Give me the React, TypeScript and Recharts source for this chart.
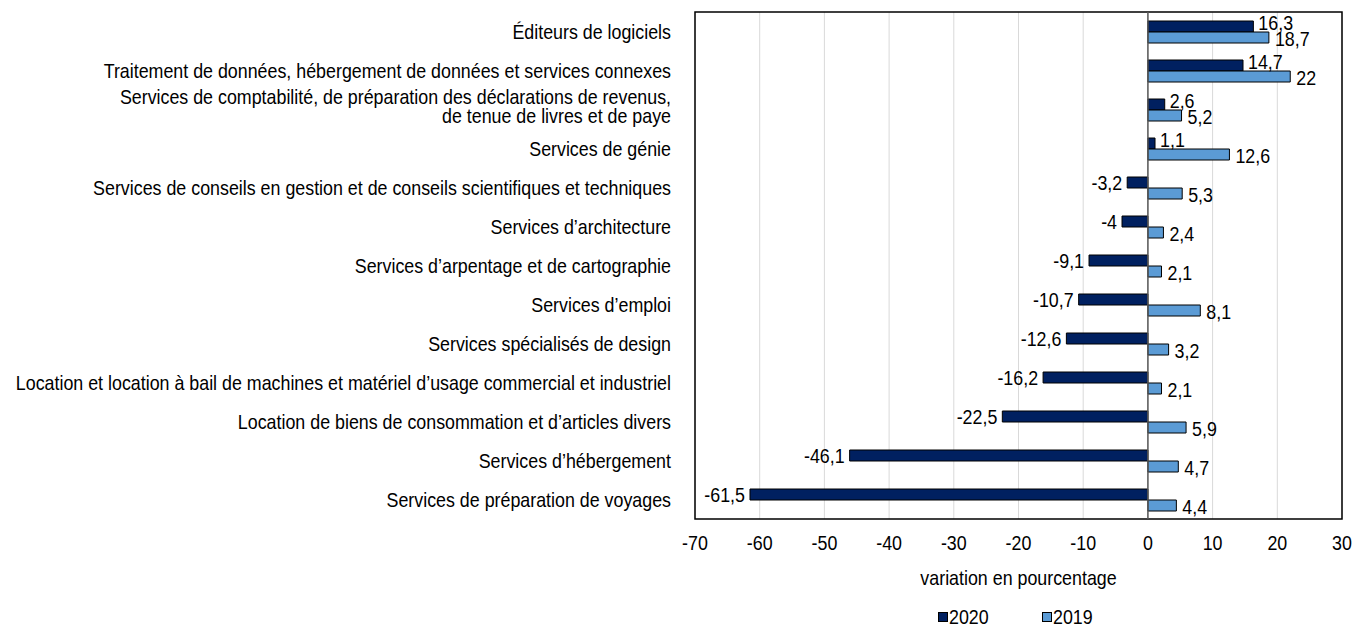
import React from 'react';
import {
  BarChart,
  Bar,
  XAxis,
  YAxis,
  CartesianGrid,
  Legend,
  LabelList,
  ReferenceLine,
  ReferenceArea,
} from 'recharts';

// industries, top to bottom
const categories = [
  'Éditeurs de logiciels',
  'Traitement de données, hébergement de données et services connexes',
  'Services de comptabilité, de préparation des déclarations de revenus,\nde tenue de livres et de paye',
  'Services de génie',
  'Services de conseils en gestion et de conseils scientifiques et techniques',
  'Services d\u2019architecture',
  'Services d\u2019arpentage et de cartographie',
  'Services d\u2019emploi',
  'Services spécialisés de design',
  'Location et location à bail de machines et matériel d\u2019usage commercial et industriel',
  'Location de biens de consommation et d\u2019articles divers',
  'Services d\u2019hébergement',
  'Services de préparation de voyages',
];

const values2020 = [16.3, 14.7, 2.6, 1.1, -3.2, -4, -9.1, -10.7, -12.6, -16.2, -22.5, -46.1, -61.5];
const values2019 = [18.7, 22, 5.2, 12.6, 5.3, 2.4, 2.1, 8.1, 3.2, 2.1, 5.9, 4.7, 4.4];

const xTicks = [-70, -60, -50, -40, -30, -20, -10, 0, 10, 20, 30];

// no narrow font installed, so squeeze Liberation Sans horizontally
const FONT = '"Liberation Sans", Arial, sans-serif';
const FS = 21;
const SQUEEZE = 0.85;
const DARK = '#002060';
const LIGHT = '#5b9bd5';

const data = categories.map((name, i) => ({
  name,
  y2020: values2020[i],
  y2019: values2019[i],
}));

const fmt = (v: number) => String(v).replace('.', ',');

function NarrowText({ x, y, anchor, children, dy }: any) {
  return (
    <text
      transform={`translate(${x},${y}) scale(${SQUEEZE},1)`}
      textAnchor={anchor}
      dy={dy}
      fontFamily={FONT}
      fontSize={FS}
      fill="#000"
    >
      {children}
    </text>
  );
}

function CategoryTick(props: any) {
  const { x, y, payload } = props;
  const lines = String(payload.value).split('\n');
  const lh = 19;
  const start = lines.length > 1 ? -lh / 2 - 4 : 0;
  return (
    <g>
      {lines.map((l, i) => (
        <NarrowText key={i} x={x} y={y + start + i * lh} anchor="end" dy="0.36em">
          {l}
        </NarrowText>
      ))}
    </g>
  );
}

function XTick(props: any) {
  const { x, y, payload } = props;
  return (
    <NarrowText x={x} y={y} anchor="middle" dy="0.71em">
      {payload.value}
    </NarrowText>
  );
}

function AxisTitle(props: any) {
  const { viewBox } = props;
  const cx = viewBox.x + viewBox.width / 2;
  return (
    <NarrowText x={cx} y={viewBox.y + 58} anchor="middle" dy="0.36em">
      variation en pourcentage
    </NarrowText>
  );
}

// Excel-style "outside end" labels
function makeLabel(gap: number, dyPos: number, dyNeg: number) {
  return function ValueLabel(props: any) {
    const { x, y, width, height, value } = props;
    const left = Math.min(x, x + width);
    const right = Math.max(x, x + width);
    const pos = value >= 0;
    return (
      <NarrowText
        x={pos ? right + gap : left - gap}
        y={y + height / 2 + (pos ? dyPos : dyNeg)}
        anchor={pos ? 'start' : 'end'}
        dy="0.36em"
      >
        {fmt(value)}
      </NarrowText>
    );
  };
}

function LegendContent() {
  const items = [
    { label: '2020', color: DARK },
    { label: '2019', color: LIGHT },
  ];
  return (
    <div style={{ display: 'flex', justifyContent: 'center', gap: 46, fontFamily: FONT, fontSize: FS, lineHeight: '20px' }}>
      {items.map((it) => (
        <div key={it.label} style={{ display: 'flex', alignItems: 'center' }}>
          <span
            style={{
              display: 'inline-block',
              width: 8,
              height: 8,
              background: it.color,
              border: '1px solid #000',
              marginRight: 1,
            }}
          />
          <span style={{ display: 'inline-block', transform: `scaleX(${SQUEEZE})`, transformOrigin: 'left center' }}>
            {it.label}
          </span>
        </div>
      ))}
    </div>
  );
}

export default function App() {
  return (
    <div style={{ position: 'absolute', left: 0, top: 0, width: 1354, height: 627, background: '#fff' }}>
      <BarChart
        width={1354}
        height={627}
        data={data}
        layout="vertical"
        margin={{ top: 12, right: 12, bottom: 0, left: 0 }}
        barSize={11}
        barGap={0}
      >
        <CartesianGrid horizontal={false} stroke="#d9d9d9" />
        <XAxis
          type="number"
          domain={[-70, 30]}
          ticks={xTicks}
          tickLine={false}
          axisLine={false}
          height={88}
          tick={<XTick />}
          tickMargin={10}
          label={<AxisTitle />}
        />
        <YAxis
          type="category"
          dataKey="name"
          width={695}
          tickLine={false}
          axisLine={false}
          interval={0}
          tickMargin={18}
          tick={<CategoryTick />}
        />
        <ReferenceArea x1={-70} x2={30} fill="none" stroke="#000" strokeWidth={1.5} ifOverflow="visible" />
        <ReferenceLine x={0} stroke="#595959" strokeWidth={1.5} />
        <Legend
          verticalAlign="bottom"
          height={20}
          wrapperStyle={{ left: 695, width: 647 }}
          content={<LegendContent />}
        />
        <Bar dataKey="y2020" name="2020" fill={DARK} stroke="#000" strokeWidth={1} isAnimationActive={false}>
          <LabelList dataKey="y2020" content={makeLabel(5, -4, 0)} />
        </Bar>
        <Bar dataKey="y2019" name="2019" fill={LIGHT} stroke="#000" strokeWidth={1} isAnimationActive={false}>
          <LabelList dataKey="y2019" content={makeLabel(6, 1, 1)} />
        </Bar>
      </BarChart>
    </div>
  );
}
